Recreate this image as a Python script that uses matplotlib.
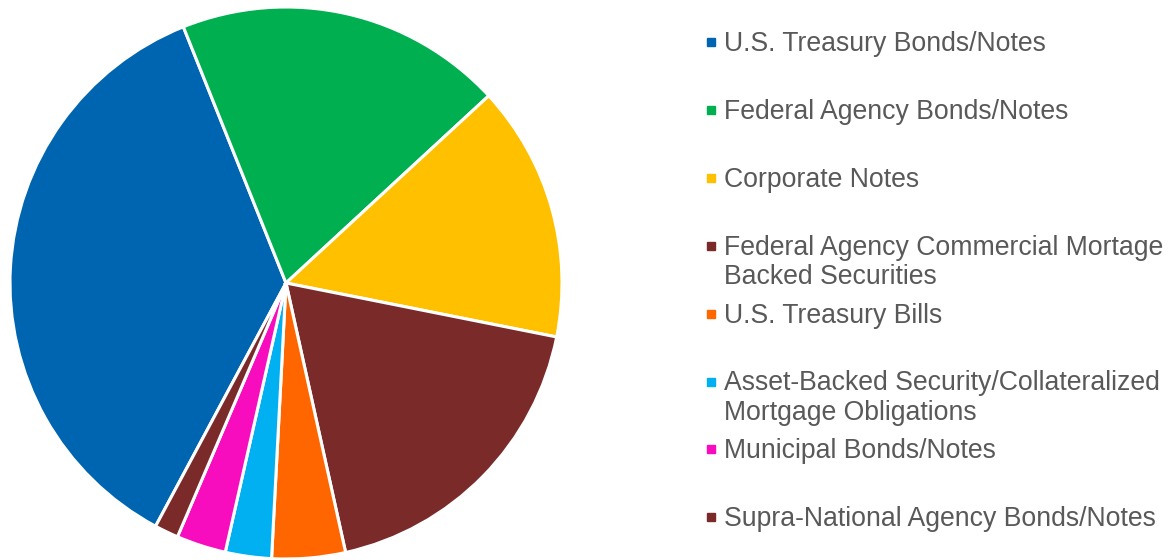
import matplotlib
matplotlib.use("Agg")
import matplotlib.pyplot as plt
from matplotlib.patches import Rectangle

# sector allocation (percent of portfolio)
labels = [
    "U.S. Treasury Bonds/Notes",
    "Federal Agency Bonds/Notes",
    "Corporate Notes",
    "Federal Agency Commercial Mortage\nBacked Securities",
    "U.S. Treasury Bills",
    "Asset-Backed Security/Collateralized\nMortgage Obligations",
    "Municipal Bonds/Notes",
    "Supra-National Agency Bonds/Notes",
]
values = [36.1, 19.2, 15.0, 18.4, 4.3, 2.7, 2.9, 1.4]
colors = ["#0065B0", "#00B050", "#FFC000", "#7B2A2A",
          "#FF6600", "#00B0F0", "#F70CBE", "#7B2A2A"]

W, H = 1173, 560
fig = plt.figure(figsize=(W / 100, H / 100), dpi=100)
plt.rcParams["font.family"] = ["Liberation Sans", "DejaVu Sans"]

# pie axes: centre ~ (286, 283) px, radius ~ 276 px
ax = fig.add_axes([10 / W, 1 / H, 552 / W, 552 / H])
ax.pie(values, colors=colors, startangle=-118.2, counterclock=False,
       wedgeprops=dict(edgecolor="white", linewidth=2.2))
ax.set_xlim(-1.0, 1.0)
ax.set_ylim(-1.0, 1.0)
ax.set_aspect("equal")
ax.axis("off")

# legend drawn by hand so the rows keep an even pitch
row0 = 42
pitch = 67.9
line_gap = 29
for i, (lab, col) in enumerate(zip(labels, colors)):
    y = row0 + i * pitch
    fig.patches.append(Rectangle(((707) / W, 1 - (y + 4) / H), 8 / W, 8 / H,
                                 transform=fig.transFigure, color=col))
    for k, line in enumerate(lab.split("\n")):
        fig.text(724 / W, 1 - (y + 2 + k * line_gap) / H, line, fontsize=19.2,
                 color="#595959", va="center", ha="left")

fig.savefig("out.png", dpi=100)
